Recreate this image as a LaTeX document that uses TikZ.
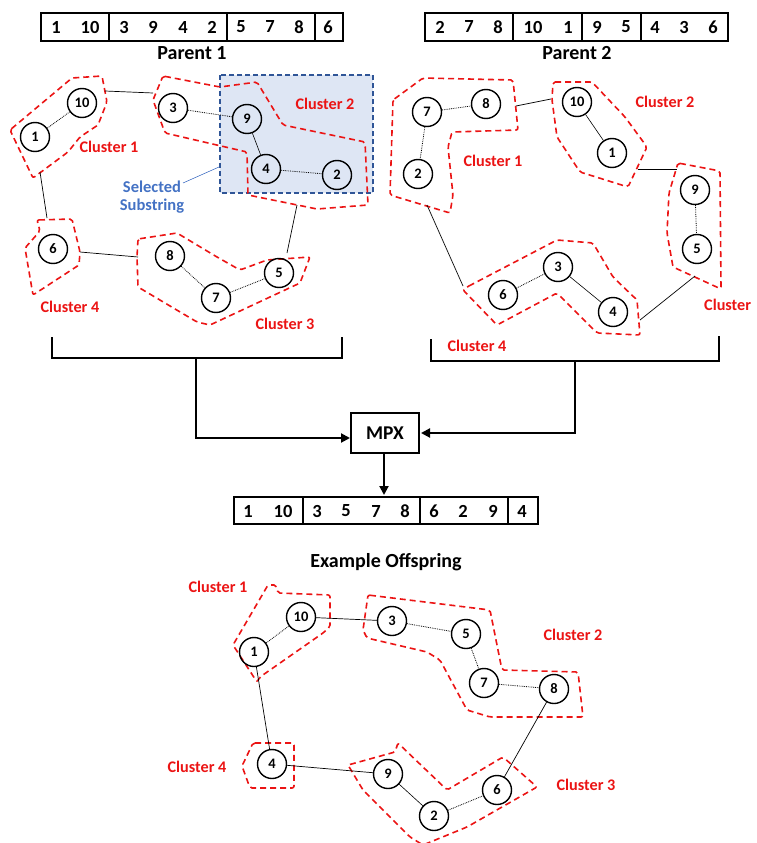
\documentclass[tikz,border=0pt]{standalone}
\usepackage{fontspec}
\setmainfont{Carlito}
\usetikzlibrary{arrows.meta}
\definecolor{cred}{RGB}{235,20,20}
\definecolor{cblue}{RGB}{68,114,196}
\definecolor{selfill}{RGB}{222,230,244}
\definecolor{seldraw}{RGB}{47,85,151}
\begin{document}
\begin{tikzpicture}[x=1pt,y=-1pt,
 vtx/.style={circle,draw,line width=1.4pt,minimum size=29pt,inner sep=0pt,font=\fontsize{14.5}{15}\selectfont\bfseries},
 intra/.style={densely dotted,line width=0.8pt},
 intras/.style={line width=0.6pt},
 inter/.style={line width=0.7pt},
 clus/.style={draw=cred,line width=1.6pt,dash pattern=on 6pt off 4pt,rounded corners=2pt},
 clab/.style={text=cred,font=\fontsize{16.2}{17}\selectfont\bfseries,inner sep=0pt},
 anum/.style={font=\fontsize{18.5}{19}\selectfont\bfseries,inner sep=0pt},
 ttl/.style={font=\fontsize{20}{21}\selectfont\bfseries,inner sep=0pt},
 abox/.style={line width=2pt},
 brk/.style={line width=2pt},
 arw/.style={line width=2pt,-{Triangle[length=9pt,width=9pt]}},
]
\useasboundingbox (0,0) rectangle (757,843);

% ---------------- Parent 1 array ----------------
\draw[abox] (41,13) rectangle (343,41);
\draw[abox] (109,13) -- (109,41) (227,13) -- (227,41) (315,13) -- (315,41);
\foreach \x/\t/\n in {56/1/a1,90/10/a2,124/3/a3,153/9/a4,183/4/a5,212/2/a6,241/5/a7,270/7/a8,299/8/a9,328/6/a10}
  \node[anum] (p1\n) at (\x,27) {\t};
\node[ttl] (p1title) at (192,53) {Parent 1};

% ---------------- Parent 2 array ----------------
\draw[abox] (425,13) rectangle (728,41);
\draw[abox] (513,13) -- (513,41) (582,13) -- (582,41) (641,13) -- (641,41);
\foreach \x/\t/\n in {440/2/a1,469/7/a2,498/8/a3,533/10/a4,568/1/a5,597/9/a6,626/5/a7,655/4/a8,684/3/a9,713/6/a10}
  \node[anum] (p2\n) at (\x,27) {\t};
\node[ttl] (p2title) at (577,53) {Parent 2};

% ---------------- Parent 1 graph ----------------
\draw[dashed,dash pattern=on 5pt off 3pt,draw=seldraw,line width=1.3pt,fill=selfill] (220,75) rectangle (373,193);
\coordinate (selpt) at (219,167);
\node[text=cblue,font=\fontsize{16.5}{17.5}\selectfont\bfseries,align=center,inner sep=0pt] (sel) at (152,197) {Selected\\Substring};
\draw[cblue,line width=0.6pt] (183,183) -- (selpt);

\draw[clus] (10,130) -- (72,78) -- (102,76) -- (107,102) -- (98,125) -- (80,137) -- (68,152) -- (33,178) -- cycle;
\draw[clus] (163,76) -- (220,87) -- (257,82) -- (283,125) -- (365,142) -- (368,205) -- (317,209) -- (248,195) -- (247,152) -- (165,133) -- (153,100) -- cycle;
\draw[clus] (37,220) -- (72,219) -- (80,252) -- (79,265) -- (33,295) -- (25,248) -- (40,231) -- cycle;
\draw[clus] (138,239) -- (177,233) -- (217,257) -- (240,270) -- (267,260) -- (310,257) -- (300,283) -- (210,325) -- (197,322) -- (138,287) -- (137,257) -- cycle;

\node[vtx] (a10) at (82,103) {10};
\node[vtx] (a1) at (35,137) {1};
\node[vtx] (a3) at (173,108) {3};
\node[vtx] (a9) at (247,119) {9};
\node[vtx] (a4) at (266,169) {4};
\node[vtx] (a2) at (337,175) {2};
\node[vtx] (a6) at (53,249) {6};
\node[vtx] (a8) at (170,256) {8};
\node[vtx] (a7) at (216,298) {7};
\node[vtx] (a5) at (279,273) {5};

\draw[intra] (a1) -- (a10);
\draw[intra] (a3) -- (a9);
\draw[intras] (a9) -- (a4);
\draw[intra] (a4) -- (a2);
\draw[intra] (a8) -- (a7);
\draw[intra] (a7) -- (a5);

\coordinate (ac1r) at (105,91);  \coordinate (ac2l) at (153,93);
\coordinate (ac1b) at (40,172);  \coordinate (ac4t) at (47,218);
\coordinate (ac4r) at (80,252);  \coordinate (ac3l) at (138,257);
\coordinate (ac2b) at (297,205); \coordinate (ac3t) at (287,253);
\draw[inter] (ac1r) -- (ac2l);
\draw[inter] (ac1b) -- (ac4t);
\draw[inter] (ac4r) -- (ac3l);
\draw[inter] (ac2b) -- (ac3t);

\node[clab] (al1) at (109,147) {Cluster 1};
\node[clab] (al2) at (325,104) {Cluster 2};
\node[clab] (al4) at (70,307) {Cluster 4};
\node[clab] (al3) at (285,324) {Cluster 3};

% ---------------- Parent 2 graph ----------------
\draw[clus] (393,100) -- (423,78) -- (513,80) -- (518,130) -- (452,132) -- (448,147) -- (453,195) -- (450,213) -- (390,195) -- cycle;
\draw[clus] (553,82) -- (592,82) -- (625,117) -- (647,147) -- (628,187) -- (580,172) -- (557,137) -- (552,100) -- cycle;
\draw[clus] (678,163) -- (720,171) -- (721,289) -- (673,267) -- (667,233) -- (669,193) -- cycle;
\draw[clus] (467,287) -- (557,240) -- (593,243) -- (613,277) -- (637,300) -- (640,335) -- (597,333) -- (557,293) -- (497,325) -- (463,290) -- cycle;

\node[vtx] (b7) at (427,112) {7};
\node[vtx] (b8) at (486,104) {8};
\node[vtx] (b2) at (418,174) {2};
\node[vtx] (b10) at (577,102) {10};
\node[vtx] (b1) at (612,153) {1};
\node[vtx] (b9) at (695,190) {9};
\node[vtx] (b5) at (697,249) {5};
\node[vtx] (b3) at (558,267) {3};
\node[vtx] (b6) at (503,295) {6};
\node[vtx] (b4) at (613,312) {4};

\draw[intra] (b7) -- (b8);
\draw[intra] (b7) -- (b2);
\draw[intras] (b10) -- (b1);
\draw[intra] (b9) -- (b5);
\draw[intra] (b6) -- (b3);
\draw[intras] (b3) -- (b4);

\coordinate (bc1r) at (516,106); \coordinate (bc2l) at (551,99);
\coordinate (bc2b) at (638,169); \coordinate (bc3l) at (677,169);
\coordinate (bc1b) at (427,205); \coordinate (bc4l) at (463,286);
\coordinate (bc3b) at (695,276); \coordinate (bc4r) at (640,320);
\draw[inter] (bc1r) -- (bc2l);
\draw[inter] (bc2b) -- (bc3l);
\draw[inter] (bc1b) -- (bc4l);
\draw[inter] (bc3b) -- (bc4r);

\node[clab] (bl1) at (493,161) {Cluster 1};
\node[clab] (bl2) at (665,102) {Cluster 2};
\node[clab,anchor=west] (bl3) at (704,305) {Cluster};
\node[clab] (bl4) at (477,346) {Cluster 4};

% ---------------- Brackets and MPX ----------------
\draw[brk] (52,337) -- (52,358) -- (342,358) -- (342,337);
\draw[brk] (431,339) -- (431,361) -- (719,361) -- (719,336);
\coordinate (lstem) at (196,358);
\coordinate (rstem) at (575,361);
\node[draw,line width=2pt,minimum width=68pt,minimum height=40pt,inner sep=0pt,font=\fontsize{19.5}{20}\selectfont\bfseries] (mpx) at (385,433) {MPX};
\draw[arw] (lstem) |- ([yshift=-5pt]mpx.west);
\draw[arw] (rstem) |- ([xshift=1pt]mpx.east);
\coordinate (offtop) at (384,495);
\draw[arw] (mpx.south -| offtop) -- (offtop);

% ---------------- Offspring array ----------------
\draw[abox] (234,497) rectangle (538,524);
\draw[abox] (303,497) -- (303,524) (420,497) -- (420,524) (508,497) -- (508,524);
\foreach \x/\t/\n in {248/1/a1,283/10/a2,317/3/a3,346/5/a4,376/7/a5,405/8/a6,434/6/a7,463/2/a8,493/9/a9,522/4/a10}
  \node[anum] (o\n) at (\x,511) {\t};
\node[ttl] (otitle) at (386,562) {Example Offspring};

% ---------------- Offspring graph ----------------
\draw[clus] (233,645) -- (268,585) -- (276,585) -- (278,593) -- (330,595) -- (330,627) -- (323,633) -- (260,677) -- (257,682) -- cycle;
\draw[clus] (368,595) -- (490,610) -- (502,670) -- (578,672) -- (583,717) -- (490,717) -- (467,710) -- (440,660) -- (427,652) -- (367,638) -- (363,630) -- cycle;
\draw[clus] (253,743) -- (294,743) -- (294,788) -- (250,788) -- (242,766) -- cycle;
\draw[clus] (348,765) -- (395,752) -- (398,743) -- (447,790) -- (503,757) -- (537,787) -- (467,827) -- (423,845) -- (410,837) -- (363,790) -- cycle;

\node[vtx] (c10) at (301,617) {10};
\node[vtx] (c1) at (254,652) {1};
\node[vtx] (c3) at (392,621) {3};
\node[vtx] (c5) at (466,634) {5};
\node[vtx] (c7) at (484,683) {7};
\node[vtx] (c8) at (554,689) {8};
\node[vtx] (c4) at (272,764) {4};
\node[vtx] (c9) at (388,774) {9};
\node[vtx] (c2) at (434,816) {2};
\node[vtx] (c6) at (497,790) {6};

\draw[intra] (c1) -- (c10);
\draw[inter] (c10) -- (c3);
\draw[intra] (c3) -- (c5);
\draw[intra] (c5) -- (c7);
\draw[intra] (c7) -- (c8);
\draw[inter] (c8) -- (c6);
\draw[inter] (c1) -- (c4);
\draw[inter] (c4) -- (c9);
\draw[intras] (c9) -- (c2);
\draw[intra] (c2) -- (c6);

\node[clab] (cl1) at (218,587) {Cluster 1};
\node[clab] (cl2) at (573,635) {Cluster 2};
\node[clab] (cl4) at (197,767) {Cluster 4};
\node[clab] (cl3) at (586,785) {Cluster 3};
\end{tikzpicture}
\end{document}
